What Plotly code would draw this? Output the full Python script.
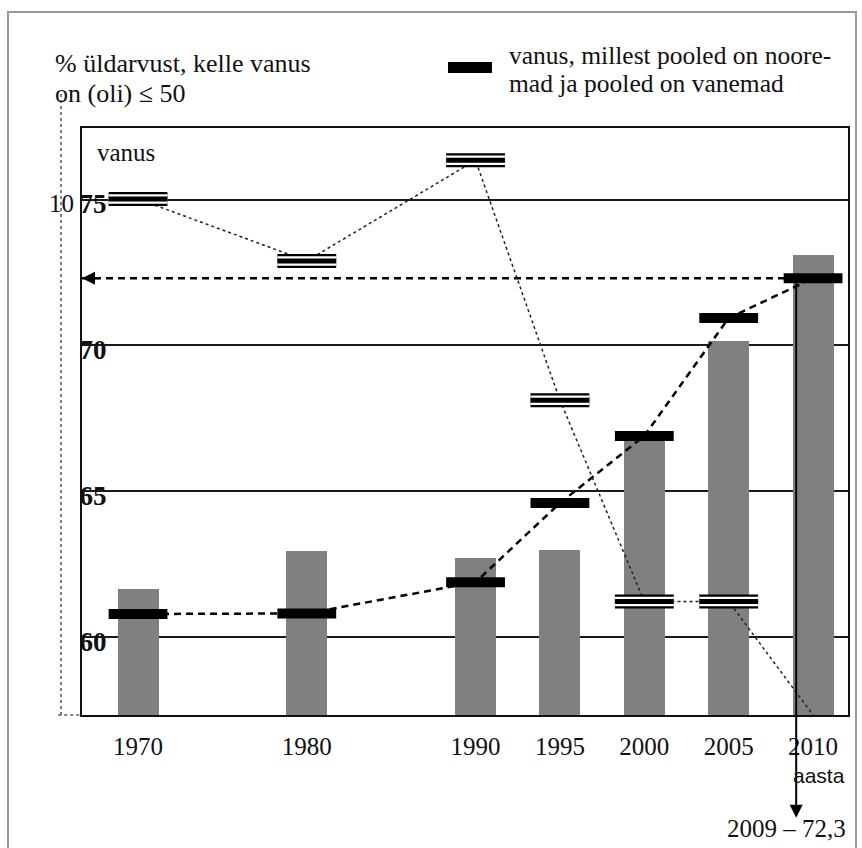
import plotly.graph_objects as go

# ---- data ----
years = [1970, 1980, 1990, 1995, 2000, 2005, 2010]
year_labels = ["1970", "1980", "1990", "1995", "2000", "2005", "2010"]
bar_age = [61.65, 62.96, 62.72, 62.99, 66.76, 70.15, 73.10]
median_age = [60.80, 60.82, 61.89, 64.60, 66.90, 70.94, 72.30]
share_le50 = [10.0, 8.8, 10.75, 6.1, 2.2, 2.2, 0.0]
y_ticks = [60, 65, 70, 75]
latest_year = 2009
latest_median = 72.3

SERIF = "Liberation Serif, Times New Roman, serif"
SANS = "Liberation Sans, Arial, sans-serif"
XMIN, XMAX = 1966.68, 2012.07

fig = go.Figure()

fig.add_trace(go.Bar(x=years, y=bar_age, width=2.43, marker_color="#808080",
                     marker_line_width=0, hoverinfo="skip"))

# dotted line: share of age <= 50 (secondary scale)
fig.add_trace(go.Scatter(x=years, y=share_le50, yaxis="y2", mode="lines",
                         line=dict(color="#222222", width=1.5, dash="dot"), hoverinfo="skip"))
sx = [x for x, v in zip(years, share_le50) if v > 0]
sy = [v for v in share_le50 if v > 0]
for w, c in [(14, "#000000"), (9.5, "#ffffff"), (5, "#000000")]:
    fig.add_trace(go.Scatter(x=sx, y=sy, yaxis="y2", mode="markers",
                             marker=dict(symbol="line-ew", size=42, color=c,
                                         line=dict(width=w, color=c)), hoverinfo="skip"))

# dashed median line + horizontal reference to the axis
fig.add_trace(go.Scatter(x=years, y=median_age, mode="lines",
                         line=dict(color="#000000", width=2.5, dash="7px,5px"), hoverinfo="skip"))
fig.add_trace(go.Scatter(x=[XMIN, years[-1]], y=[latest_median, latest_median], mode="lines",
                         line=dict(color="#000000", width=2.5, dash="7px,5px"), hoverinfo="skip"))
fig.add_trace(go.Scatter(x=years, y=median_age, mode="markers",
                         marker=dict(symbol="line-ew", size=42, color="#000",
                                     line=dict(width=10, color="#000")), hoverinfo="skip"))

ann = []
# left arrowhead
ann.append(dict(x=0, xref="paper", y=latest_median, yref="y", ax=18, ay=0, text="",
                showarrow=True, arrowhead=2, arrowsize=1.3, arrowwidth=2, arrowcolor="#000"))
# vertical arrow down from latest median
ann.append(dict(x=latest_year, xref="x", y=latest_median, yref="y", ax=0, ay=541, text="",
                showarrow=True, arrowside="start", startarrowhead=2, startarrowsize=1.3,
                arrowwidth=2, arrowcolor="#000"))
ann.append(dict(x=0.920, y=-0.1936, xref="paper", yref="paper", showarrow=False,
                text=f"{latest_year} – {str(latest_median).replace('.', ',')}",
                font=dict(family=SERIF, size=25, color="#111"), xanchor="center", yanchor="middle"))
ann.append(dict(x=0.962, y=-0.1034, xref="paper", yref="paper", showarrow=False, text="aasta",
                font=dict(family=SANS, size=21, color="#111"), xanchor="center", yanchor="middle"))
ann.append(dict(x=0.017, y=0.958, xref="paper", yref="paper", showarrow=False, text="vanus",
                font=dict(family=SERIF, size=25, color="#111"), xanchor="left", yanchor="middle"))
ann.append(dict(x=-0.0379, y=1.1097, xref="paper", yref="paper", showarrow=False,
                text="% üldarvust, kelle vanus",
                font=dict(family=SERIF, size=26, color="#111"), xanchor="left", yanchor="middle"))
ann.append(dict(x=-0.0379, y=1.0586, xref="paper", yref="paper", showarrow=False,
                text="on (oli) ≤ 50",
                font=dict(family=SERIF, size=26, color="#111"), xanchor="left", yanchor="middle"))
ann.append(dict(x=0.5548, y=1.1233, xref="paper", yref="paper", showarrow=False,
                text="vanus, millest pooled on noore-",
                font=dict(family=SERIF, size=25.5, color="#111"), xanchor="left", yanchor="middle"))
ann.append(dict(x=0.5548, y=1.0756, xref="paper", yref="paper", showarrow=False,
                text="mad ja pooled on vanemad",
                font=dict(family=SERIF, size=25.5, color="#111"), xanchor="left", yanchor="middle"))

shapes = [
    # legend key
    dict(type="rect", xref="paper", yref="paper", x0=0.4778, x1=0.5352, y0=1.0937, y1=1.1124,
         fillcolor="#000", line=dict(width=0)),
    # dotted secondary axis
    dict(type="line", xref="paper", yref="paper", x0=-0.0274, x1=-0.0274, y0=0, y1=1.062,
         line=dict(color="#555", width=1.5, dash="dot")),
    dict(type="line", xref="paper", yref="paper", x0=-0.031, x1=0, y0=0, y1=0,
         line=dict(color="#555", width=1.5, dash="dot")),
    # outer frame
    dict(type="rect", xref="paper", yref="paper", x0=-0.0966, x1=1.0104, y0=-0.26, y1=1.1976,
         line=dict(color="#999", width=2), fillcolor="rgba(0,0,0,0)", layer="below"),
]

fig.update_layout(
    width=862, height=848,
    margin=dict(l=82, r=14, t=128, b=133),
    paper_bgcolor="white", plot_bgcolor="white",
    showlegend=False, bargap=0,
    font=dict(family=SERIF, color="#111"),
    annotations=ann, shapes=shapes,
    xaxis=dict(range=[XMIN, XMAX], tickvals=years, ticktext=year_labels, ticks="",
               showline=True, linecolor="#111", linewidth=2, mirror=True,
               showgrid=False, zeroline=False, tickfont=dict(family=SERIF, size=25, color="#111"),
               ticklabelstandoff=8),
    yaxis=dict(range=[57.34, 77.45], tickvals=y_ticks,
               ticktext=[f"<b>{t}</b>" for t in y_ticks], ticks="",
               showline=True, linecolor="#111", linewidth=2, mirror=True,
               showgrid=True, gridcolor="#1a1a1a", gridwidth=2, zeroline=False,
               ticklabelposition="inside", ticklabelstandoff=0, ticklabelshift=4,
               tickfont=dict(family=SERIF, size=27, color="#111")),
    yaxis2=dict(overlaying="y", anchor="free", position=0, side="left",
                range=[0, 11.376], tickvals=[10], ticktext=["10"], ticks="",
                showline=False, showgrid=False, zeroline=False, ticklabelshift=4,
                ticklabelstandoff=8, tickfont=dict(family=SERIF, size=25, color="#111")),
)

fig.write_html("out.html", config={"displayModeBar": False},
               post_script="document.body.style.margin='0';document.body.style.padding='0';")
